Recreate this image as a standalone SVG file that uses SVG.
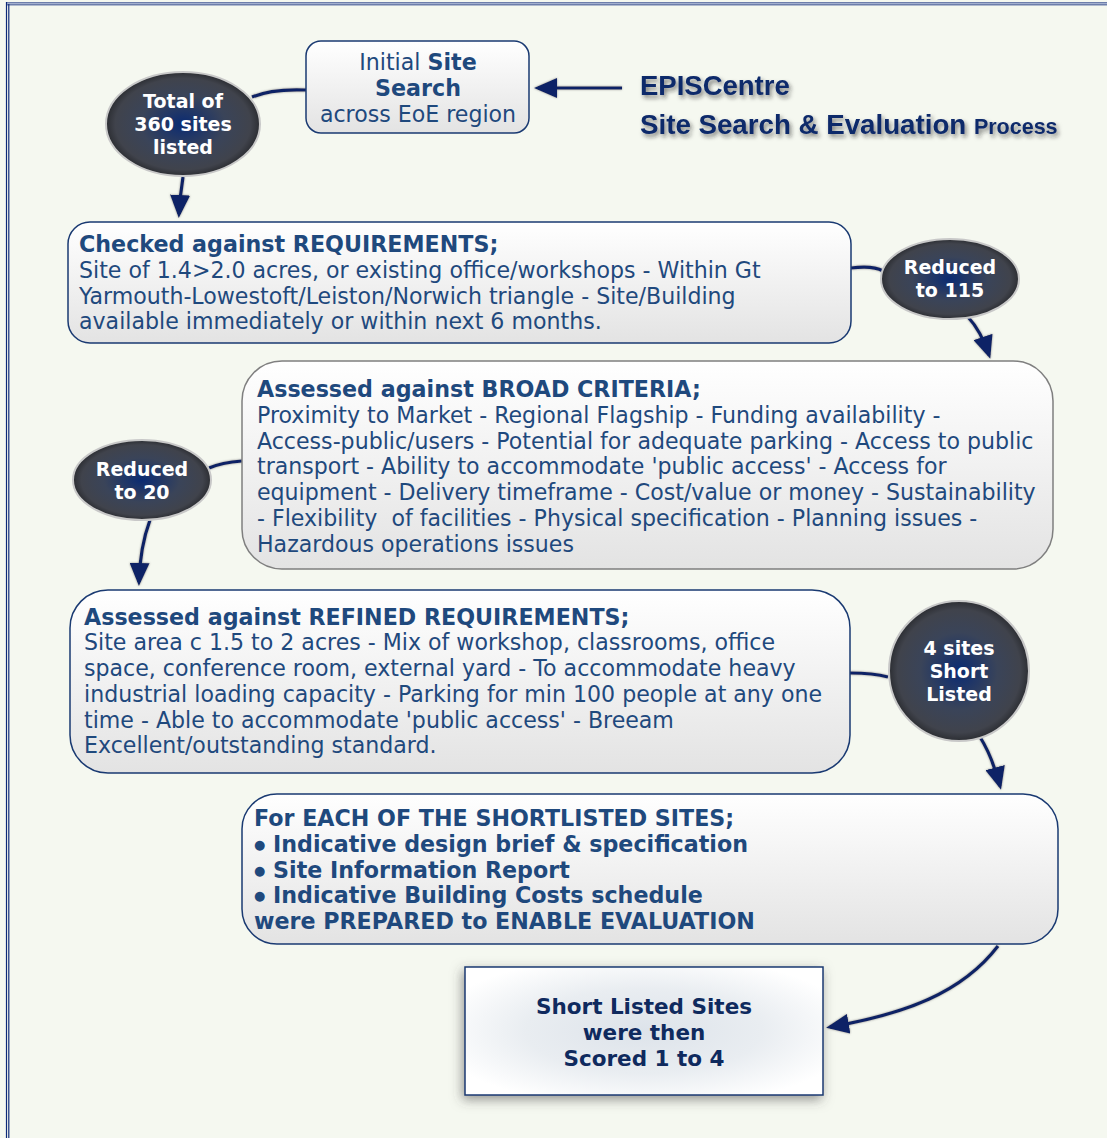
<svg xmlns="http://www.w3.org/2000/svg" width="1107" height="1138" viewBox="0 0 1107 1138">
<defs>
<linearGradient id="boxFill" x1="0" y1="0" x2="0" y2="1">
<stop offset="0" stop-color="#ffffff"/>
<stop offset="1" stop-color="#e3e3e3"/>
</linearGradient>
<radialGradient id="ovalFill" cx="0.5" cy="0.5" r="0.5">
<stop offset="0" stop-color="#0b2b72"/>
<stop offset="0.55" stop-color="#3a4459"/>
<stop offset="0.88" stop-color="#40434c"/>
<stop offset="1" stop-color="#2c2e33"/>
</radialGradient>
<radialGradient id="scoreFill" cx="0.5" cy="0.5" r="0.6">
<stop offset="0" stop-color="#dde3ea"/>
<stop offset="0.55" stop-color="#e9edf1"/>
<stop offset="1" stop-color="#ffffff"/>
</radialGradient>
<filter id="titleShadow" x="-10%" y="-40%" width="130%" height="200%">
<feDropShadow dx="2" dy="3" stdDeviation="2" flood-color="#222222" flood-opacity="0.55"/>
</filter>
<filter id="boxShadow" x="-20%" y="-30%" width="140%" height="160%">
<feDropShadow dx="-2" dy="4" stdDeviation="6" flood-color="#444444" flood-opacity="0.55"/>
</filter>
<filter id="lineShadow" x="-20%" y="-20%" width="140%" height="140%">
<feDropShadow dx="0" dy="0" stdDeviation="0.8" flood-color="#777777" flood-opacity="0.8"/>
</filter>
<marker id="arrow" viewBox="0 0 23 20" refX="19" refY="10" markerWidth="23" markerHeight="20" markerUnits="userSpaceOnUse" orient="auto">
<path d="M0,0 L23,10 L0,20 Z" fill="#0a2466"/>
</marker>
<style>
.box{fill:url(#boxFill);stroke:#1a3a72;stroke-width:1.5}
.boxg{fill:url(#boxFill);stroke:#7f7f7f;stroke-width:1.5}
.oval{fill:url(#ovalFill);stroke:#c8c8c8;stroke-width:2}
.t{font-family:"DejaVu Sans",Verdana,sans-serif;font-size:22.1px;fill:#1f497d}
.b{font-weight:bold;font-size:22.2px}
.ov{font-family:"DejaVu Sans",Verdana,sans-serif;font-size:19px;font-weight:bold;fill:#ffffff;text-anchor:middle}
.sc{font-family:"DejaVu Sans",Verdana,sans-serif;font-size:21.5px;font-weight:bold;fill:#0f2a5e;text-anchor:middle}
.title{font-family:"Liberation Sans",Arial,sans-serif;font-weight:bold;fill:#0f2a6b}
.conn{fill:none;stroke:#0a2466;stroke-width:3.2}
</style>
</defs>

<rect x="0" y="0" width="1107" height="1138" fill="#f5f8f0"/>
<g id="frame">
<rect x="6" y="2" width="1101" height="3.5" fill="#6d7eab"/>
<rect x="6" y="3" width="1101" height="1" fill="#a3b0cf"/>
<line x1="6.5" y1="2" x2="6.5" y2="1138" stroke="#0e2a78" stroke-width="1.2"/>
<line x1="8.8" y1="4" x2="8.8" y2="1138" stroke="#0e2a78" stroke-width="1.2"/>
</g>

<g id="connectors" filter="url(#lineShadow)">
<path class="conn" d="M306,90 C282,89 264,92 252,97"/>
<path class="conn" d="M183,177 Q180,196 179,214" marker-end="url(#arrow)"/>
<path class="conn" d="M851,268 C866,266 876,267 883,271"/>
<path class="conn" d="M968,317 Q981,331 989,355" marker-end="url(#arrow)"/>
<path class="conn" d="M242,461 C228,462 218,464 209,468"/>
<path class="conn" d="M150,520 Q140,547 139,582" marker-end="url(#arrow)"/>
<path class="conn" d="M850,673 C865,673 877,674 888,677"/>
<path class="conn" d="M980,737 Q992,756 1000,786" marker-end="url(#arrow)"/>
<path class="conn" d="M998,946 C962,993 905,1014 830,1027" marker-end="url(#arrow)"/>
<path class="conn" d="M622,88 L538,88" marker-end="url(#arrow)"/>
</g>

<g id="title" filter="url(#titleShadow)">
<text class="title" x="640" y="95" font-size="27.5">EPISCentre</text>
<text class="title" x="640" y="134" font-size="27.7">Site Search &amp; Evaluation <tspan font-size="21.5">Process</tspan></text>
</g>

<g id="initial-search">
<rect class="box" x="306" y="41" width="223" height="92" rx="15"/>
<text class="t" text-anchor="middle" x="418" y="70">Initial <tspan class="b">Site</tspan></text>
<text class="t b" text-anchor="middle" x="418" y="96">Search</text>
<text class="t" text-anchor="middle" x="418" y="122">across EoE region</text>
</g>

<g id="total-360">
<ellipse class="oval" cx="183" cy="124" rx="77" ry="52"/>
<text class="ov" x="183" y="108">Total of</text>
<text class="ov" x="183" y="131">360 sites</text>
<text class="ov" x="183" y="154">listed</text>
</g>

<g id="requirements">
<rect class="box" x="68" y="222" width="783" height="121" rx="22"/>
<text class="t b" x="79" y="252">Checked against REQUIREMENTS;</text>
<text class="t" x="79" y="278">Site of 1.4&gt;2.0 acres, or existing office/workshops - Within Gt</text>
<text class="t" x="79" y="304">Yarmouth-Lowestoft/Leiston/Norwich triangle - Site/Building</text>
<text class="t" x="79" y="329">available immediately or within next 6 months.</text>
</g>

<g id="reduced-115">
<ellipse class="oval" cx="950" cy="279" rx="69" ry="40"/>
<text class="ov" x="950" y="274">Reduced</text>
<text class="ov" x="950" y="297">to 115</text>
</g>

<g id="broad-criteria">
<rect class="boxg" x="242" y="361" width="811" height="208" rx="40"/>
<text class="t b" x="257" y="397">Assessed against BROAD CRITERIA;</text>
<text class="t" x="257" y="423">Proximity to Market - Regional Flagship - Funding availability -</text>
<text class="t" x="257" y="449">Access-public/users - Potential for adequate parking - Access to public</text>
<text class="t" x="257" y="474">transport - Ability to accommodate 'public access' - Access for</text>
<text class="t" x="257" y="500">equipment - Delivery timeframe - Cost/value or money - Sustainability</text>
<text class="t" x="257" y="526" xml:space="preserve">- Flexibility  of facilities - Physical specification - Planning issues -</text>
<text class="t" x="257" y="552">Hazardous operations issues</text>
</g>

<g id="reduced-20">
<ellipse class="oval" cx="142" cy="480" rx="69" ry="40"/>
<text class="ov" x="142" y="476">Reduced</text>
<text class="ov" x="142" y="499">to 20</text>
</g>

<g id="refined-requirements">
<rect class="box" x="70" y="590" width="780" height="183" rx="38"/>
<text class="t b" x="84" y="625">Assessed against REFINED REQUIREMENTS;</text>
<text class="t" x="84" y="650">Site area c 1.5 to 2 acres - Mix of workshop, classrooms, office</text>
<text class="t" x="84" y="676">space, conference room, external yard - To accommodate heavy</text>
<text class="t" x="84" y="702">industrial loading capacity - Parking for min 100 people at any one</text>
<text class="t" x="84" y="728">time - Able to accommodate 'public access' - Breeam</text>
<text class="t" x="84" y="753">Excellent/outstanding standard.</text>
</g>

<g id="four-sites">
<circle class="oval" cx="959" cy="671" r="70"/>
<text class="ov" x="959" y="655">4 sites</text>
<text class="ov" x="959" y="678">Short</text>
<text class="ov" x="959" y="701">Listed</text>
</g>

<g id="shortlisted-prep">
<rect class="box" x="242" y="794" width="816" height="150" rx="35"/>
<text class="t b" x="254" y="826">For EACH OF THE SHORTLISTED SITES;</text>
<text class="t b" x="254" y="852"><tspan font-size="13" dy="-3">●</tspan><tspan dy="3"> Indicative design brief &amp; specification</tspan></text>
<text class="t b" x="254" y="878"><tspan font-size="13" dy="-3">●</tspan><tspan dy="3"> Site Information Report</tspan></text>
<text class="t b" x="254" y="903"><tspan font-size="13" dy="-3">●</tspan><tspan dy="3"> Indicative Building Costs schedule</tspan></text>
<text class="t b" x="254" y="929">were PREPARED to ENABLE EVALUATION</text>
</g>

<g id="scored">
<rect x="465" y="967" width="358" height="128" fill="url(#scoreFill)" stroke="#1a3a72" stroke-width="1.5" filter="url(#boxShadow)"/>
<text class="sc" x="644" y="1014">Short Listed Sites</text>
<text class="sc" x="644" y="1040">were then</text>
<text class="sc" x="644" y="1066">Scored 1 to 4</text>
</g>
</svg>
